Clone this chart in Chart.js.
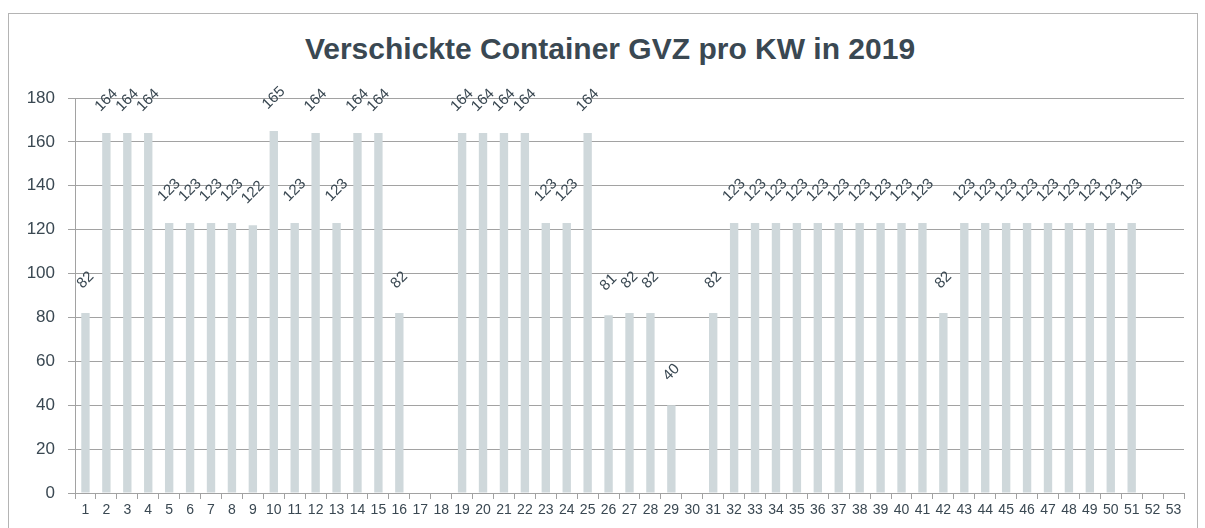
<!DOCTYPE html>
<html>
<head>
<meta charset="utf-8">
<script src="https://cdn.jsdelivr.net/npm/chart.js@4/dist/chart.umd.min.js"></script>
<style>
    html, body { margin: 0; padding: 0; background: #fff; overflow: hidden; }
    #frame {
        position: absolute; left: 8px; top: 13px; width: 1190px; height: 600px;
        border: 1px solid #b4b4b4; box-sizing: border-box;
    }
    #title {
        position: absolute; left: 10px; width: 1200px; top: 32px; line-height: 36px;
        text-align: center; font: bold 30px "Liberation Sans", Arial, sans-serif; color: #3a4852;
    }
    #wrap { position: absolute; left: 0; top: 0; width: 1205px; height: 528px; }
</style>
</head>
<body>
<div id="frame"></div>
<div id="title">Verschickte Container GVZ pro KW in 2019</div>
<div id="wrap"><canvas id="kwChart"></canvas></div>
<script>
    // Kalenderwochen und verschickte Container je Woche
    const weeks = ['1', '2', '3', '4', '5', '6', '7', '8', '9', '10', '11', '12', '13', '14', '15', '16', '17', '18',
        '19', '20', '21', '22', '23', '24', '25', '26', '27', '28', '29', '30', '31', '32', '33', '34', '35', '36',
        '37', '38', '39', '40', '41', '42', '43', '44', '45', '46', '47', '48', '49', '50', '51', '52', '53'];
    const containers = [82, 164, 164, 164, 123, 123, 123, 123, 122, 165, 123, 164, 123, 164, 164, 82, null, null,
        164, 164, 164, 164, 123, 123, 164, 81, 82, 82, 40, null, 82, 123, 123, 123, 123, 123,
        123, 123, 123, 123, 123, 82, 123, 123, 123, 123, 123, 123, 123, 123, 123, null, null];
    const yTicks = [0, 20, 40, 60, 80, 100, 120, 140, 160, 180];

    const textColor = '#3a4852';
    const gridColor = '#a2a2a2';
    const fontFamily = '"Liberation Sans", Arial, sans-serif';

    // Schräge Werte über den Balken
    const barLabels = {
        id: 'barLabels',
        afterDatasetsDraw(chart) {
            const ctx = chart.ctx;
            const yScale = chart.scales.y;
            const meta = chart.getDatasetMeta(0);
            ctx.save();
            ctx.fillStyle = textColor;
            ctx.font = '15px ' + fontFamily;
            ctx.textAlign = 'center';
            ctx.textBaseline = 'middle';
            meta.data.forEach((bar, i) => {
                const v = containers[i];
                if (v === null) {
                    return;
                }
                const y = yScale.getPixelForValue(v + 15);
                ctx.save();
                ctx.translate(bar.x, y);
                ctx.rotate(-Math.PI / 4);
                ctx.fillText(String(v), 0, 0);
                ctx.restore();
            });
            ctx.restore();
        }
    };

    const ctx = document.getElementById('kwChart').getContext('2d');
    new Chart(ctx, {
        type: 'bar',
        data: {
            labels: weeks,
            datasets: [{
                label: 'Container',
                data: containers,
                backgroundColor: '#cfd8db',
                categoryPercentage: 1,
                barPercentage: 0.4,
            }]
        },
        options: {
            responsive: true,
            maintainAspectRatio: false,
            animation: false,
            layout: {padding: {left: 0, right: 21, top: 98, bottom: 0}},
            plugins: {
                legend: {display: false},
                tooltip: {enabled: false},
                title: {display: false}
            },
            scales: {
                x: {
                    offset: true,
                    grid: {
                        offset: true,
                        drawOnChartArea: false,
                        drawTicks: true,
                        tickLength: 6,
                        color: gridColor,
                    },
                    border: {display: true, color: gridColor},
                    ticks: {
                        color: textColor,
                        autoSkip: false,
                        maxRotation: 0,
                        padding: 3,
                        font: {family: fontFamily, size: 14}
                    },
                    afterFit(scale) {
                        scale.height = 35;
                    }
                },
                y: {
                    min: 0,
                    max: 180,
                    afterBuildTicks(scale) {
                        scale.ticks = yTicks.map(v => ({value: v}));
                    },
                    grid: {color: gridColor, tickLength: 7},
                    border: {display: true, color: gridColor},
                    ticks: {
                        color: textColor,
                        padding: 13,
                        font: {family: fontFamily, size: 17}
                    },
                    afterFit(scale) {
                        scale.width = 75;
                    }
                }
            }
        },
        plugins: [barLabels]
    });
</script>
</body>
</html>
